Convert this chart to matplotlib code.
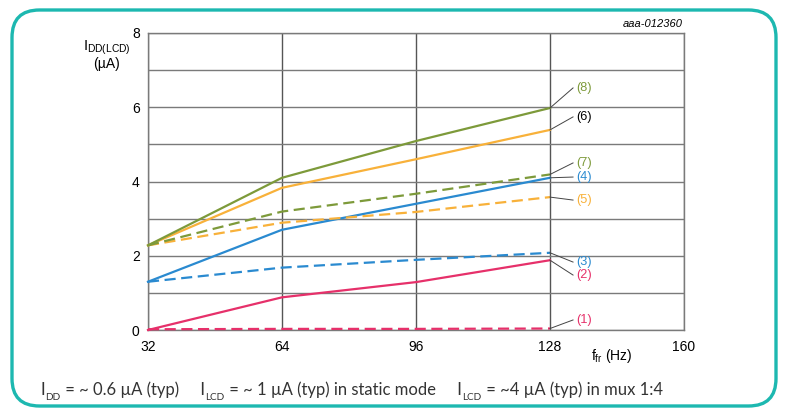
import matplotlib
matplotlib.use("Agg")
import matplotlib.pyplot as plt
from matplotlib.patches import FancyBboxPatch
from matplotlib.text import Annotation

plt.rcParams['font.family'] = ['Liberation Sans', 'DejaVu Sans']
plt.rcParams['mathtext.fontset'] = 'custom'
plt.rcParams['mathtext.rm'] = 'Liberation Sans'
plt.rcParams['mathtext.it'] = 'Liberation Sans'

# ---- data ----
freq = [32, 64, 96, 128]
s1 = [0.02, 0.03, 0.03, 0.04]   # (1) pink dashed
s2 = [0.0, 0.88, 1.29, 1.88]    # (2) pink solid
s3 = [1.3, 1.68, 1.89, 2.08]    # (3) blue dashed
s4 = [1.3, 2.7, 3.4, 4.1]       # (4) blue solid
s5 = [2.28, 2.89, 3.18, 3.58]   # (5) orange dashed
s6 = [2.28, 3.83, 4.6, 5.39]    # (6) orange solid
s7 = [2.28, 3.19, 3.67, 4.19]   # (7) olive dashed
s8 = [2.28, 4.1, 5.09, 5.98]    # (8) olive solid
series_labels = ['(1)', '(2)', '(3)', '(4)', '(5)', '(6)', '(7)', '(8)']
xticks = [32, 64, 96, 128, 160]
yticks = [0, 2, 4, 6, 8]

# ---- styles / layout ----
PINK = '#e6306a'
BLUE = '#2a8ad0'
ORANGE = '#f8b13a'
OLIVE = '#7d9a3a'
series = [s1, s2, s3, s4, s5, s6, s7, s8]
colors = [PINK, PINK, BLUE, BLUE, ORANGE, ORANGE, OLIVE, OLIVE]
styles = ['--', '-', '--', '-', '--', '-', '--', '-']
label_colors = [PINK, PINK, BLUE, BLUE, ORANGE, 'black', OLIVE, OLIVE]
label_y = [0.27, 1.48, 1.83, 4.12, 3.5, 5.74, 4.5, 6.52]

fig = plt.figure(figsize=(7.85, 4.09), dpi=100)
ax = fig.add_axes([148/785, 1-330/409, (684-148)/785, (330-33)/409])

for ys, c, ls in zip(series, colors, styles):
    dash = (0, (5, 2.5)) if ls == '--' else '-'
    ax.plot(freq, ys, color=c, lw=1.6, ls=dash, zorder=3, clip_on=False)

for ys, lab, lc, ly in zip(series, series_labels, label_colors, label_y):
    ax.plot([freq[-1], 133.5], [ys[-1], ly], color='#444444', lw=0.7, zorder=4)
    ax.text(134.3, ly, lab, color=lc, fontsize=9.2, va='center', ha='left', zorder=5)

ax.set_xlim(32, 160)
ax.set_ylim(0, 8)
ax.set_xticks(xticks)
ax.set_yticks(yticks)
ax.set_yticks(range(0, 9), minor=True)
ax.tick_params(axis='both', which='both', length=0, labelsize=10, colors='black')
ax.tick_params(axis='x', pad=7)
ax.tick_params(axis='y', pad=6)
ax.grid(True, axis='y', which='both', color='#7a7a7a', lw=1.0, zorder=1)
ax.grid(True, axis='x', which='major', color='#555555', lw=1.0, zorder=1)
for sp in ax.spines.values():
    sp.set_color('#7a7a7a')
    sp.set_linewidth(1.0)

fig.text(107/785, 1-48/409, r'$\mathrm{I_{DD(LCD)}}$', fontsize=10.5, ha='center', va='center')
fig.text(107/785, 1-64/409, '(µA)', fontsize=10, ha='center', va='center')
fig.text(612/785, 1-356/409, r'$\mathrm{f_{fr}}$ (Hz)', fontsize=10, ha='center', va='center')
fig.text(683/785, 1-24/409, 'aaa-012360', fontsize=8, style='italic', ha='right', va='center')

# rounded frame
frame = FancyBboxPatch((12/785, 1-406/409), (776-12)/785, (406-10)/409,
                       boxstyle='round,pad=0,rounding_size=0.035',
                       transform=fig.transFigure, fill=False,
                       edgecolor='#1db8b0', lw=2.4, mutation_aspect=785/409)
fig.add_artist(frame)

# footnote (text pieces chained, subscripts lowered)
FN = ['Lato', 'DejaVu Sans']
FS = 12
pieces = [('DD', True), (' = ~ 0.6 µA (typ)     I', False), ('LCD', True),
          (' = ~ 1 µA (typ) in static mode     I', False), ('LCD', True),
          (' = ~4 µA (typ) in mux 1:4', False)]
cur = fig.text(40/785, 1-395/409, 'I', fontsize=FS, family=FN,
               color='#333333', ha='left', va='baseline')
for txt, sub in pieces:
    if sub:
        cur = fig.add_artist(Annotation(
            txt, xy=(1, 0), xycoords=cur, xytext=(0.3, -2.8), textcoords='offset points',
            fontsize=FS * 0.6, family=FN, color='#333333', ha='left', va='bottom'))
    else:
        cur = fig.add_artist(Annotation(
            txt, xy=(1, 0), xycoords=cur, xytext=(0.3, 2.8), textcoords='offset points',
            fontsize=FS, family=FN, color='#333333', ha='left', va='bottom'))

fig.savefig('out.png', dpi=100)
